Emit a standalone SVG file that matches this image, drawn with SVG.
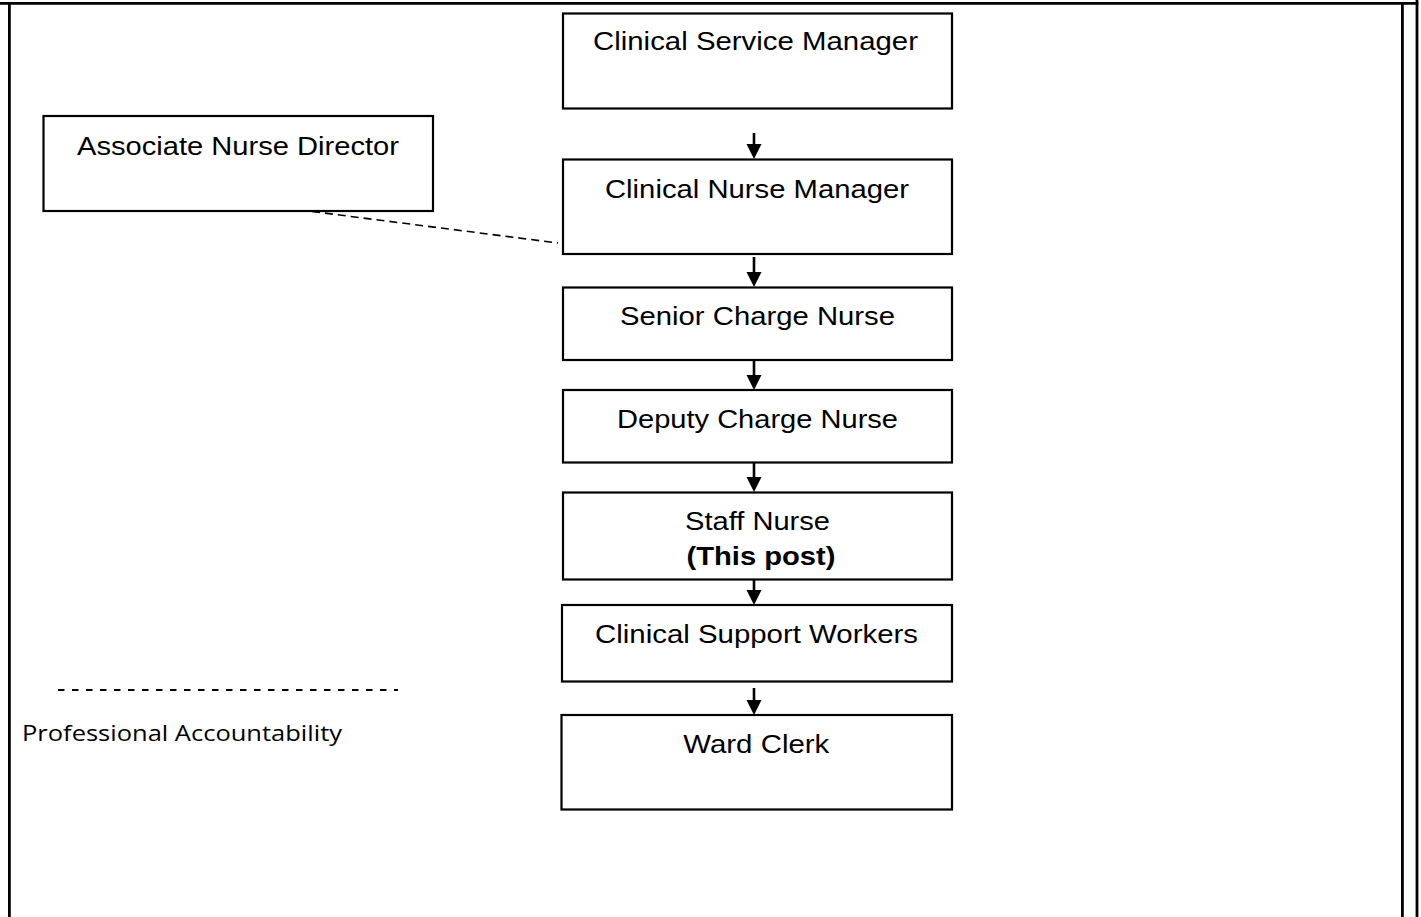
<svg xmlns="http://www.w3.org/2000/svg" width="1421" height="917" viewBox="0 0 1421 917">
<defs>
<style>
.box{fill:#fff;stroke:#000;stroke-width:2.2}
.t{font-family:"Liberation Sans",Arial,sans-serif;font-size:26.5px;fill:#000;text-anchor:middle}
.b{font-weight:bold}
.frame{stroke:#000;stroke-width:2.8;fill:none}
.arr{stroke:#000;stroke-width:2.6;fill:none}
.head{fill:#000}
.dash{stroke:#000;stroke-width:1.6;stroke-dasharray:8 5;fill:none}
.ldash{stroke:#000;stroke-width:1.8;stroke-dasharray:6.5 7.5;fill:none}
.legend{font-family:"Open Sans",Calibri,sans-serif;font-size:21.5px;fill:#000}
</style>
</defs>
<rect width="1421" height="917" fill="#fff"/>
<g id="frame">
<line class="frame" x1="0" y1="3.4" x2="1418.3" y2="3.4"/>
<line class="frame" x1="9.4" y1="3.4" x2="9.4" y2="917"/>
<line class="frame" x1="1402.4" y1="3.4" x2="1402.4" y2="917"/>
<line class="frame" x1="1417" y1="0" x2="1417" y2="917"/>
</g>
<g id="connectors">
<line class="arr" x1="754" y1="133" x2="754" y2="146"/><polygon class="head" points="746.5,144 761.5,144 754,159"/>
<line class="arr" x1="754" y1="257" x2="754" y2="274"/><polygon class="head" points="746.5,272 761.5,272 754,287"/>
<line class="arr" x1="754" y1="361" x2="754" y2="377"/><polygon class="head" points="746.5,375 761.5,375 754,390"/>
<line class="arr" x1="754" y1="463" x2="754" y2="479"/><polygon class="head" points="746.5,477 761.5,477 754,492"/>
<line class="arr" x1="754" y1="580" x2="754" y2="592"/><polygon class="head" points="746.5,590 761.5,590 754,605"/>
<line class="arr" x1="754" y1="688" x2="754" y2="702"/><polygon class="head" points="746.5,700 761.5,700 754,715"/>
<line class="dash" x1="312" y1="211.5" x2="558" y2="243"/>
</g>
<g id="csm"><rect class="box" x="563" y="13.5" width="389" height="95"/><text class="t" x="755.5" y="50" textLength="325" lengthAdjust="spacingAndGlyphs">Clinical Service Manager</text></g>
<g id="and"><rect class="box" x="43.5" y="116" width="389.5" height="95"/><text class="t" x="238" y="155" textLength="322" lengthAdjust="spacingAndGlyphs">Associate Nurse Director</text></g>
<g id="cnm"><rect class="box" x="563" y="159.5" width="389" height="94.5"/><text class="t" x="757" y="198" textLength="304" lengthAdjust="spacingAndGlyphs">Clinical Nurse Manager</text></g>
<g id="scn"><rect class="box" x="563" y="287.5" width="389" height="72.5"/><text class="t" x="757.5" y="325" textLength="275" lengthAdjust="spacingAndGlyphs">Senior Charge Nurse</text></g>
<g id="dcn"><rect class="box" x="563" y="390" width="389" height="72.5"/><text class="t" x="757.5" y="428" textLength="281" lengthAdjust="spacingAndGlyphs">Deputy Charge Nurse</text></g>
<g id="sn"><rect class="box" x="563" y="492.5" width="389" height="87"/><text class="t" x="757.5" y="530" textLength="145" lengthAdjust="spacingAndGlyphs">Staff Nurse</text><text class="t b" x="761" y="565" textLength="149" lengthAdjust="spacingAndGlyphs">(This post)</text></g>
<g id="csw"><rect class="box" x="562" y="605" width="390" height="76.5"/><text class="t" x="756.5" y="643" textLength="323" lengthAdjust="spacingAndGlyphs">Clinical Support Workers</text></g>
<g id="wc"><rect class="box" x="561.5" y="715" width="390.5" height="94.5"/><text class="t" x="756.3" y="753" textLength="146" lengthAdjust="spacingAndGlyphs">Ward Clerk</text></g>
<g id="legend">
<line class="ldash" x1="58" y1="690" x2="398" y2="690"/>
<text class="legend" x="22" y="741" textLength="320" lengthAdjust="spacingAndGlyphs">Professional Accountability</text>
</g>
</svg>
